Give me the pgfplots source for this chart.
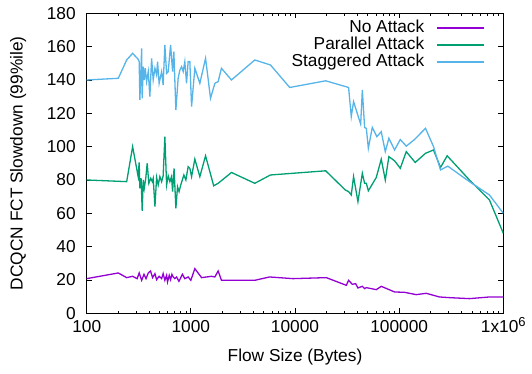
\documentclass[border=0pt]{standalone}
\usepackage{fontspec}
\setmainfont{Liberation Sans}
\usepackage{pgfplots}
\pgfplotsset{compat=1.18}
\definecolor{cpurple}{HTML}{9400D3}
\definecolor{cgreen}{HTML}{009E73}
\definecolor{cblue}{HTML}{56B4E9}
\begin{document}
\fontsize{17.3pt}{20pt}\selectfont
\begin{tikzpicture}
\useasboundingbox (-86.7pt,-60pt) rectangle (445.3pt,313.3pt);
\begin{axis}[
  at={(0,0)}, anchor=south west,
  scale only axis, width=416.6pt, height=300pt,
  xmode=log, xmin=100, xmax=1000000,
  ymin=0, ymax=180, ytick={0,20,...,180},
  xtick={100,1000,10000,100000,1000000},
  xticklabels={100,1000,10000,100000,{1x10\raisebox{6pt}{\fontsize{13pt}{14pt}\selectfont 6}}},
  /pgf/number format/assume math mode=true,
  axis line style={line width=1.2pt},
  tick style={black, line width=0.8pt},
  major tick length=5pt, minor tick length=2.5pt,
  tick align=inside,
  yticklabel style={xshift=-5pt},
  xticklabel style={yshift=-1pt, text height=12.5pt},
  xlabel={Flow Size (Bytes)},
  xlabel style={yshift=-4pt},
  ylabel={DCQCN FCT Slowdown (99\%ile)},
  ylabel style={yshift=9pt},
  legend plot pos=right,
  legend cell align=right,
  legend style={draw=none, fill=none, at={(rel axis cs:1,1)}, anchor=north east, xshift=-15pt, yshift=-4pt,
    nodes={inner sep=0.5pt, text height=12.5pt, text depth=3.5pt},
    /tikz/every odd column/.append style={column sep=12pt}},
  legend image code/.code={\draw[#1] (0pt,0pt) -- (47pt,0pt);},
]
\addplot[cpurple, line width=1.3pt] table {
100 20.8
201 24.2
242 21.4
276 22.2
305 20.8
319 24.2
337 19.8
355 23.4
371 20.8
390 24.2
410 25.4
429 21.4
452 23.8
469 20.2
496 22.2
524 20.8
542 23.8
563 19.8
585 22.8
597 18.8
620 22.8
639 20.2
658 23.4
677 21.8
702 20.8
729 21.8
769 19.2
830 23.4
875 20.8
942 21.8
1000 19.8
1092 26.8
1268 21.4
1578 22.2
1700 21.8
1828 25.4
1968 19.8
4110 19.8
5700 21.8
9570 20.8
20000 21.4
31100 16.8
32700 19.8
35500 17.4
38200 17.8
40200 15.2
44300 16.2
46600 14.8
48400 15.4
60300 14.2
67300 16.2
90400 12.8
112700 12.6
145900 11.2
182000 12
244000 9.8
304000 9.4
473000 8.8
736000 9.8
1000000 9.8
};
\addlegendentry{No Attack}
\addplot[cgreen, line width=1.3pt] table {
100 80
242 79
276 100
312 82
319 90.5
324 75
333 81
341 61.5
349 80
357 75
369 81
381 90
395 78
412 81
426 79
435 81
452 64
469 81.5
486 77
504 82
524 79
542 82.5
563 106
585 77
606 82.5
629 79
652 82
668 73
690 87
718 63
745 76
771 73
800 77
857 83
896 80
942 88
978 87
1016 82
1092 92.5
1220 82
1384 94.5
1657 76.5
1828 78
2455 84.5
4110 78
5810 83
19700 85.5
30400 74
32700 73
34700 71
36500 82
40200 67
44300 84
46600 78
48400 78
50600 73.5
60300 81.5
67300 92.5
73600 80
79700 94
90400 91.5
102500 87
117000 97
142600 90.5
179000 96
213800 98
249400 87.5
289000 94.5
473000 80
736000 68
1000000 48
};
\addlegendentry{Parallel Attack}
\addplot[cblue, line width=1.3pt] table {
100 140
201 141
242 152
276 156
312 152.4
319 151
324 128
337 159
341 129
349 148
357 140
365 147
376 139
390 145
404 130
420 153
435 140
452 147
469 143
479 151
496 138
524 145
542 137
563 161
585 144
606 145
639 161
668 145
687 157
718 122
755 141
785 146
814 148
844 145
875 151
909 138
942 151
978 151
1016 124
1092 147
1220 138
1384 153
1545 129
1700 138
1828 139
1968 147
2455 140
4110 152
5810 149
8900 135.5
19700 139.5
32700 135.5
34700 118
36500 127
42700 113.5
44300 134
46600 111.5
48400 111
50600 99
55200 111.5
61100 106
67300 109
73600 97
79700 105
90400 98
102500 104.3
117000 100.3
140600 104.3
179000 111
213800 100
249400 86
293000 88.3
473000 79
736000 71
1000000 60
};
\addlegendentry{Staggered Attack}
\end{axis}
\end{tikzpicture}
\end{document}
